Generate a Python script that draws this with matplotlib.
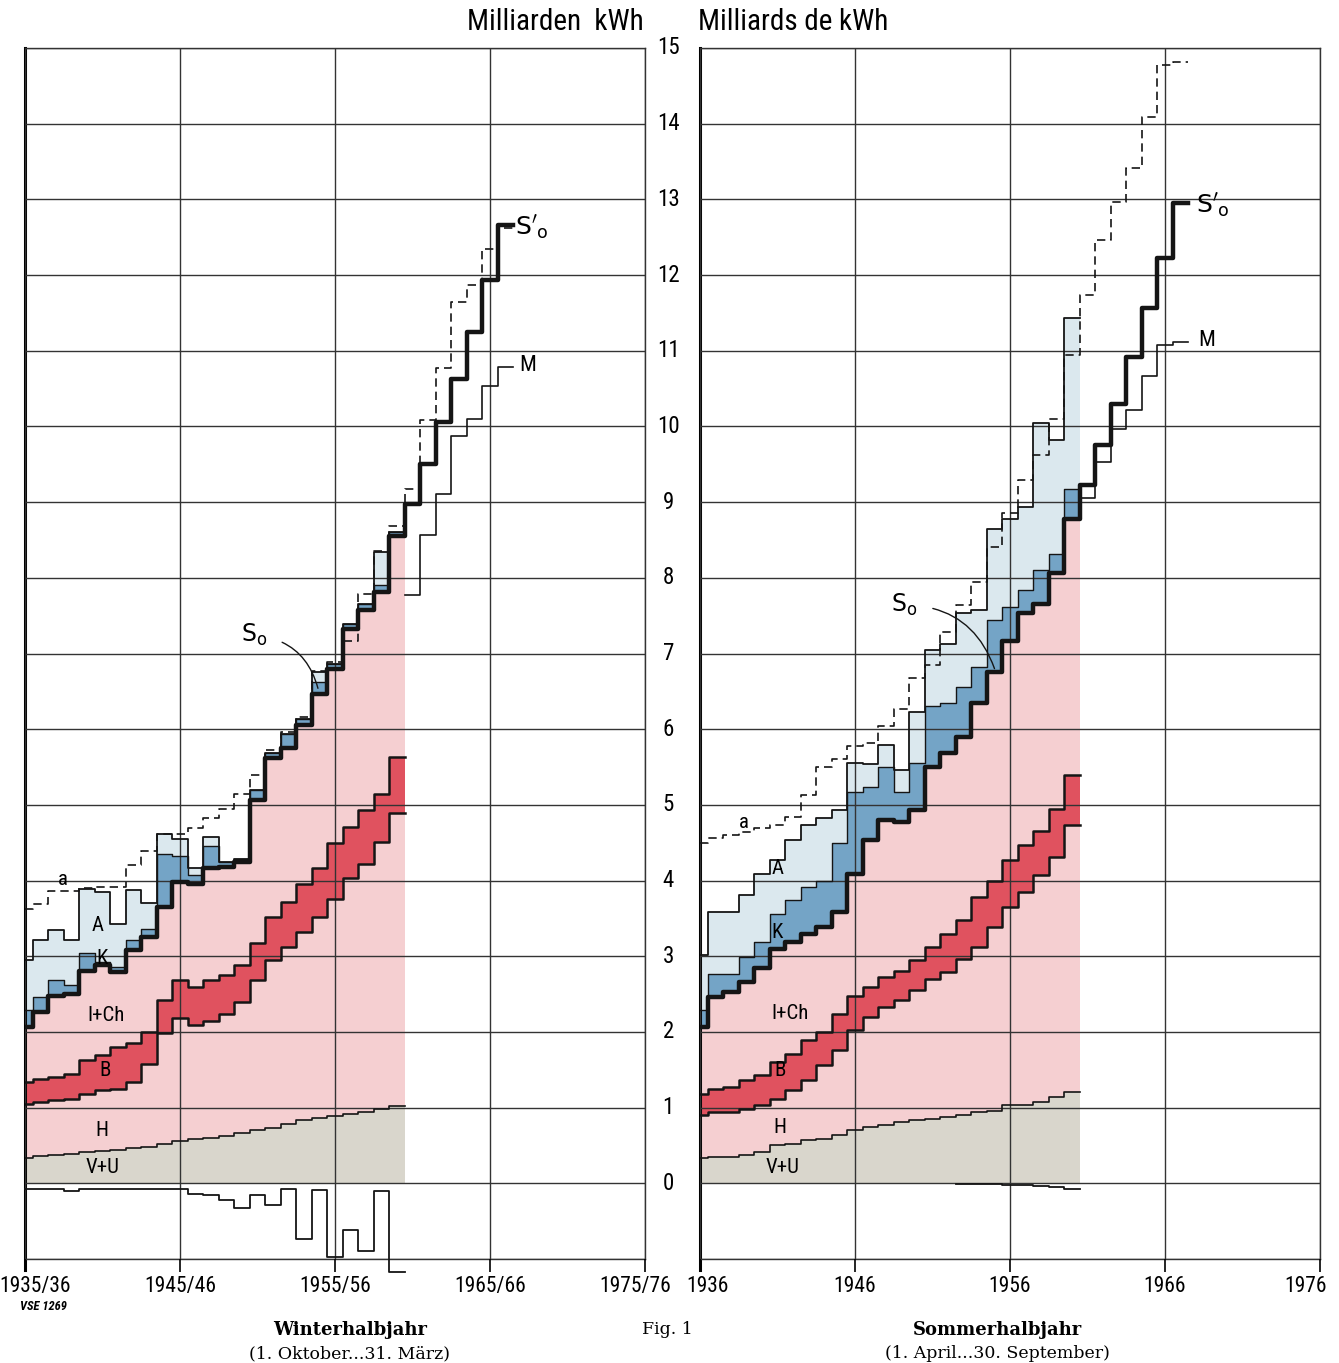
import numpy as np
import matplotlib.pyplot as plt
import matplotlib.transforms as mtransforms

plt.rcParams['font.family'] = ['Roboto Condensed', 'Liberation Sans', 'DejaVu Sans']
plt.rcParams['mathtext.fontset'] = 'dejavusans'

# Winterhalbjahr 1935/36 ... 1959/60, Milliarden kWh (Grenzen der Schichten)
w_start = 1935
vu_w = [0.33, 0.36, 0.37, 0.39, 0.42, 0.43, 0.44, 0.46, 0.48, 0.52, 0.56, 0.58, 0.60,
        0.63, 0.66, 0.70, 0.73, 0.78, 0.83, 0.86, 0.89, 0.92, 0.94, 0.98, 1.02]
bbot_w = [1.05, 1.07, 1.10, 1.12, 1.18, 1.23, 1.25, 1.34, 1.58, 1.98, 2.18, 2.09, 2.15,
          2.24, 2.40, 2.68, 2.95, 3.12, 3.32, 3.52, 3.76, 4.03, 4.22, 4.51, 4.89]
btop_w = [1.34, 1.38, 1.41, 1.45, 1.63, 1.69, 1.80, 1.85, 2.00, 2.42, 2.68, 2.60, 2.68,
          2.75, 2.88, 3.17, 3.52, 3.72, 3.96, 4.16, 4.49, 4.71, 4.93, 5.15, 5.63]
so_w = [2.07, 2.26, 2.48, 2.50, 2.81, 2.88, 2.79, 3.08, 3.26, 3.65, 3.98, 3.96, 4.16,
        4.18, 4.25, 5.07, 5.62, 5.75, 6.06, 6.46, 6.79, 7.32, 7.57, 7.81, 8.55]
k_w = [2.29, 2.46, 2.68, 2.62, 3.04, 2.93, 2.86, 3.22, 3.36, 4.35, 4.33, 4.07, 4.46,
       4.25, 4.29, 5.20, 5.69, 5.93, 6.13, 6.62, 6.86, 7.39, 7.65, 7.90, 8.60]
atop_w = [2.95, 3.21, 3.35, 3.21, 3.89, 3.85, 3.42, 3.87, 3.70, 4.62, 4.55, 4.17, 4.57,
          4.25, 4.29, 5.20, 5.69, 5.93, 6.13, 6.75, 6.86, 7.39, 7.65, 8.34, 8.60]
neg_w = [-0.08, -0.08, -0.08, -0.10, -0.08, -0.08, -0.08, -0.08, -0.08, -0.08, -0.07,
         -0.14, -0.16, -0.22, -0.33, -0.15, -0.29, -0.07, -0.73, -0.09, -0.98, -0.62,
         -0.89, -0.10, -1.17]
# bis 1966/67
a_w = [3.62, 3.69, 3.86, 3.86, 3.90, 3.91, 3.92, 4.21, 4.39, 4.61, 4.62, 4.70, 4.82,
       4.95, 5.15, 5.40, 5.72, 5.96, 6.16, 6.77, 6.89, 7.17, 7.79, 8.36, 8.69,
       9.18, 10.08, 10.77, 11.65, 11.87, 12.35, 12.62]
sp_w = [8.98, 9.51, 10.06, 10.63, 11.25, 11.93, 12.66]
m_w = [7.77, 8.56, 9.11, 9.88, 10.10, 10.54, 10.79]

# Sommerhalbjahr 1936 ... 1960
s_start = 1936
vu_s = [0.33, 0.35, 0.35, 0.38, 0.41, 0.50, 0.52, 0.57, 0.59, 0.64, 0.70, 0.75, 0.77,
        0.81, 0.83, 0.85, 0.87, 0.90, 0.94, 0.96, 1.03, 1.03, 1.08, 1.14, 1.21]
bbot_s = [0.90, 0.94, 0.94, 0.98, 1.03, 1.12, 1.23, 1.36, 1.56, 1.76, 2.02, 2.20, 2.33,
          2.42, 2.55, 2.70, 2.79, 2.97, 3.12, 3.39, 3.65, 3.85, 4.07, 4.31, 4.73]
btop_s = [1.18, 1.25, 1.27, 1.36, 1.43, 1.60, 1.71, 1.89, 2.00, 2.24, 2.48, 2.59, 2.73,
          2.81, 2.95, 3.12, 3.30, 3.48, 3.78, 4.00, 4.27, 4.47, 4.66, 4.95, 5.39]
so_s = [2.07, 2.46, 2.53, 2.66, 2.84, 3.10, 3.19, 3.30, 3.39, 3.59, 4.09, 4.53, 4.80,
        4.78, 4.93, 5.50, 5.68, 5.90, 6.34, 6.76, 7.16, 7.53, 7.66, 8.06, 8.78]
k_s = [2.29, 2.77, 2.77, 2.99, 3.19, 3.56, 3.74, 3.92, 4.00, 4.49, 5.17, 5.24, 5.50,
       5.17, 5.55, 6.30, 6.34, 6.56, 6.82, 7.44, 7.62, 7.84, 8.10, 8.32, 9.18]
atop_s = [3.01, 3.58, 3.58, 3.81, 4.09, 4.27, 4.53, 4.73, 4.82, 4.93, 5.55, 5.54, 5.79,
          5.46, 6.23, 7.04, 7.13, 7.53, 7.57, 8.65, 8.78, 8.94, 10.04, 9.82, 11.43]
neg_s_first = 17
neg_s = [-0.01, -0.01, -0.01, -0.02, -0.02, -0.03, -0.05, -0.07]
a_s = [4.50, 4.56, 4.60, 4.64, 4.69, 4.73, 4.84, 5.13, 5.50, 5.61, 5.78, 5.82, 6.04,
       6.27, 6.67, 6.85, 7.29, 7.64, 7.95, 8.41, 8.85, 9.29, 9.62, 10.10, 10.94,
       11.74, 12.46, 12.97, 13.41, 14.09, 14.77, 14.81]
sp_s = [9.22, 9.75, 10.30, 10.92, 11.56, 12.22, 12.95]
m_s = [9.05, 9.53, 9.97, 10.22, 10.66, 11.07, 11.12]

w_ticks = ['1935/36', '1945/46', '1955/56', '1965/66', '1975/76']
s_ticks = ['1936', '1946', '1956', '1966', '1976']

pink = '#f5cfd1'
red = '#e0525f'
grey = '#d9d6cc'
blue = '#74a4c6'
lblue = '#dbe8ee'
ink = '#151515'


def edges(start, n, first=0):
    # Stufe i liegt mittig auf start+i, die erste wird an der Achse abgeschnitten
    e = start + np.arange(first, first + n + 1) - 0.5
    if first == 0:
        e[0] = start
    return e


def ext(v):
    v = list(v)
    return np.array(v + v[-1:])


def panel(ax, start, vu, bbot, btop, so, k, atop, a, sp, m, neg, neg_first, ticks):
    n = len(vu)
    xe = edges(start, n)
    layers = [(np.zeros(n), vu, grey), (vu, bbot, pink), (bbot, btop, red),
              (btop, so, pink), (so, k, blue), (k, atop, lblue)]
    for lo, hi, c in layers:
        ax.fill_between(xe, ext(lo), ext(hi), step='post', color=c, lw=0, zorder=1)
    for v, lw in [(vu, 1.2), (bbot, 1.8), (btop, 1.8), (k, 1.0), (atop, 1.3)]:
        ax.step(xe, ext(v), where='post', color=ink, lw=lw, zorder=4)
    full = list(so) + list(sp)
    ax.step(edges(start, len(full)), ext(full), where='post', color=ink, lw=3.2, zorder=6)
    ax.step(edges(start, len(a)), ext(a), where='post', color=ink, lw=1.2,
            dashes=(5, 3), zorder=5)
    ax.step(edges(start, len(m), first=n), ext(m), where='post', color=ink, lw=1.2, zorder=5)
    ax.step(edges(start, len(neg), first=neg_first), ext(neg), where='post', color=ink,
            lw=1.3, zorder=5, clip_on=False)

    ax.set_xlim(start, start + 40)
    ax.set_ylim(-1, 15)
    ax.set_yticks(range(-1, 16))
    ax.set_xticks(range(start, start + 41, 10))
    ax.set_xticklabels(ticks, fontsize=15.5)
    ax.tick_params(axis='y', length=0, labelleft=False)
    ax.tick_params(axis='x', length=9, width=1.2, pad=3, direction='out')
    ax.grid(True, color='#333333', lw=1.0)
    ax.set_axisbelow(False)
    for sp_name in ['top', 'bottom', 'right']:
        ax.spines[sp_name].set_linewidth(1.0)
        ax.spines[sp_name].set_color('#333333')
    ax.spines['left'].set_linewidth(2.2)
    ax.spines['left'].set_bounds(-1.15, 15)


def nudge(label, px):
    label.set_transform(label.get_transform() +
                        mtransforms.ScaledTranslation(px / 100, 0, fig.dpi_scale_trans))


fig = plt.figure(figsize=(13.39, 13.63), dpi=100)
ax1 = fig.add_axes([25 / 1339, 1 - 1259 / 1363, 620 / 1339, 1211 / 1363])
ax2 = fig.add_axes([700 / 1339, 1 - 1259 / 1363, 620 / 1339, 1211 / 1363])

panel(ax1, w_start, vu_w, bbot_w, btop_w, so_w, k_w, atop_w, a_w, sp_w, m_w,
      neg_w, 0, w_ticks)
panel(ax2, s_start, vu_s, bbot_s, btop_s, so_s, k_s, atop_s, a_s, sp_s, m_s,
      neg_s, neg_s_first, s_ticks)

# Randbeschriftungen etwas einruecken wie im Original
nudge(ax1.get_xticklabels()[0], 10)
nudge(ax1.get_xticklabels()[-1], -10)
nudge(ax2.get_xticklabels()[0], 7)
nudge(ax2.get_xticklabels()[-1], -14)

# Skala in der Mitte
for v in range(0, 16):
    ax1.text(1976.5, v, str(v), ha='center', va='center', fontsize=16.5, clip_on=False)

lab = dict(ha='center', va='center', fontsize=15, zorder=8)
for ax, pos in [(ax1, [(1937.45, 4.02), (1939.7, 3.41), (1939.97, 2.97), (1940.2, 2.22),
                       (1940.16, 1.49), (1939.97, 0.70), (1940.0, 0.21)]),
                (ax2, [(1938.84, 4.77), (1941.0, 4.16), (1941.0, 3.32), (1941.8, 2.25),
                       (1941.16, 1.49), (1941.16, 0.74), (1941.35, 0.21)])]:
    for t, (x, y) in zip(['a', 'A', 'K', 'I+Ch', 'B', 'H', 'V+U'], pos):
        ax.text(x, y, t, **lab)

ax1.text(1967.7, 12.62, r"$\mathrm{S'_o}$", fontsize=18, ha='center', va='center')
ax2.text(1969.1, 12.92, r"$\mathrm{S'_o}$", fontsize=18, ha='center', va='center')
ax1.text(1967.45, 10.80, 'M', fontsize=16, ha='center', va='center')
ax2.text(1968.7, 11.14, 'M', fontsize=16, ha='center', va='center')

arc = dict(arrowstyle='-', connectionstyle='arc3,rad=-0.35', lw=1.0, color=ink,
           shrinkA=9, shrinkB=0)
ax1.annotate(r'$\mathrm{S_o}$', xy=(1953.9, 6.54), xytext=(1949.8, 7.24), fontsize=17,
             ha='center', va='center', arrowprops=arc, zorder=9)
ax2.annotate(r'$\mathrm{S_o}$', xy=(1955.0, 6.80), xytext=(1949.2, 7.64), fontsize=17,
             ha='center', va='center', arrowprops=arc, zorder=9)

fig.text(555 / 1339, 1 - 22 / 1363, 'Milliarden  kWh', fontsize=21, ha='center', va='center')
fig.text(793 / 1339, 1 - 22 / 1363, 'Milliards de kWh', fontsize=21, ha='center', va='center')
fig.text(20 / 1339, 1 - 1306 / 1363, 'VSE 1269', fontsize=9, style='italic',
         weight='bold', ha='left', va='center')
serif = ['DejaVu Serif']
fig.text(350 / 1339, 1 - 1330 / 1363, 'Winterhalbjahr', family=serif, weight='bold',
         fontsize=13, ha='center', va='center')
fig.text(350 / 1339, 1 - 1354 / 1363, '(1. Oktober...31. März)', family=serif,
         fontsize=12.5, ha='center', va='center')
fig.text(667 / 1339, 1 - 1330 / 1363, 'Fig. 1', family=serif, fontsize=12.5,
         ha='center', va='center')
fig.text(997 / 1339, 1 - 1330 / 1363, 'Sommerhalbjahr', family=serif, weight='bold',
         fontsize=13, ha='center', va='center')
fig.text(997 / 1339, 1 - 1354 / 1363, '(1. April...30. September)', family=serif,
         fontsize=12.5, ha='center', va='center')

fig.savefig('out.png', dpi=100)
